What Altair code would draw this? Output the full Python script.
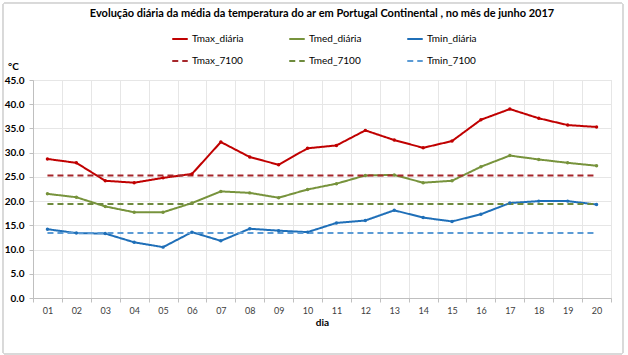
import altair as alt
import pandas as pd

days = ["01","02","03","04","05","06","07","08","09","10",
        "11","12","13","14","15","16","17","18","19","20"]
tmax = [28.7,27.9,24.2,23.8,24.8,25.6,32.2,29.1,27.5,30.9,
        31.5,34.6,32.6,31.0,32.4,36.8,39.0,37.1,35.7,35.3]
tmed = [21.5,20.8,18.9,17.7,17.7,19.6,22.0,21.7,20.7,22.4,
        23.6,25.3,25.4,23.8,24.2,27.1,29.4,28.6,27.9,27.3]
tmin = [14.2,13.4,13.3,11.5,10.5,13.6,11.8,14.3,13.9,13.6,
        15.5,16.0,18.1,16.6,15.8,17.3,19.6,20.0,20.0,19.3]
tmax_7100 = 25.3
tmed_7100 = 19.4
tmin_7100 = 13.4

# legend fills column by column: pairs (daily, normal) per column
series = ["Tmax_diária","Tmax_7100","Tmed_diária","Tmed_7100","Tmin_diária","Tmin_7100"]
colors = ["#C00000","#A6262B","#77933C","#6E8B3D","#1F6FB8","#5B9BD5"]
dashes = [[1,0],[6,4],[1,0],[6,4],[1,0],[6,4]]
daily = ["Tmax_diária","Tmed_diária","Tmin_diária"]

rows = []
for i, d in enumerate(days):
    rows.append({"dia": d, "serie": "Tmax_diária", "v": tmax[i]})
    rows.append({"dia": d, "serie": "Tmed_diária", "v": tmed[i]})
    rows.append({"dia": d, "serie": "Tmin_diária", "v": tmin[i]})
    rows.append({"dia": d, "serie": "Tmax_7100", "v": tmax_7100})
    rows.append({"dia": d, "serie": "Tmed_7100", "v": tmed_7100})
    rows.append({"dia": d, "serie": "Tmin_7100", "v": tmin_7100})
df = pd.DataFrame(rows)

FONT = "Lato"

x = alt.X("dia:O", sort=days, title="dia",
          scale=alt.Scale(paddingInner=0, paddingOuter=0),
          axis=alt.Axis(labelAngle=0, tickBand="extent", grid=True,
                        gridColor="#E6E6E6", domainColor="#BFBFBF", tickColor="#BFBFBF",
                        tickSize=4, labelFontSize=9, labelColor="#404040", labelFont=FONT,
                        labelPadding=4, titleFont=FONT, titleFontSize=10, titleFontWeight="bold",
                        titleColor="#000000", titleY=24, titleBaseline="middle"))
y = alt.Y("v:Q", title="°C",
          scale=alt.Scale(domain=[0, 45], nice=False),
          axis=alt.Axis(values=[0,5,10,15,20,25,30,35,40,45], format=".1f",
                        gridColor="#E6E6E6", domainColor="#BFBFBF", tickColor="#BFBFBF",
                        tickSize=4, labelFontSize=10, labelFontWeight="bold", labelColor="#000000",
                        labelFont=FONT, labelPadding=5,
                        titleAngle=0, titleX=-20, titleY=-14, titleAlign="center",
                        titleBaseline="middle", titleFont=FONT, titleFontSize=10,
                        titleFontWeight="bold", titleColor="#000000"))

leg = dict(title=None, orient="none", legendX=138, legendY=-50,
           columns=3, columnPadding=41, rowPadding=8,
           symbolType="stroke", symbolSize=240, symbolStrokeWidth=2,
           labelFont=FONT, labelFontSize=10, labelColor="#000000",
           labelOffset=3, symbolLimit=0)
color = alt.Color("serie:N", scale=alt.Scale(domain=series, range=colors),
                  legend=alt.Legend(**leg))
dash = alt.StrokeDash("serie:N", scale=alt.Scale(domain=series, range=dashes),
                      legend=alt.Legend(**leg))

lines = alt.Chart(df).mark_line(strokeWidth=2).encode(x=x, y=y, color=color, strokeDash=dash)
pts = alt.Chart(df).transform_filter(
    alt.FieldOneOfPredicate(field="serie", oneOf=daily)
).mark_point(filled=True, size=12, opacity=1).encode(
    x=x, y=y, color=alt.Color("serie:N", scale=alt.Scale(domain=series, range=colors), legend=None))

border = alt.Chart(df).mark_rect(fill=None, stroke="#D9D9D9", strokeWidth=1, cornerRadius=3).encode(
    x=alt.value(-30), x2=alt.value(590), y=alt.value(-77), y2=alt.value(274))

chart = alt.layer(border, lines, pts).properties(
    width=578, height=218,
    title=alt.Title("Evolução diária da média da temperatura do ar em Portugal Continental , no mês de junho 2017",
                    anchor="middle", fontSize=11, fontWeight="bold", font=FONT, color="#000000",
                    offset=-16),
    autosize=alt.AutoSizeParams(type="none"),
    padding={"left": 33, "top": 80, "right": 17, "bottom": 57},
).configure_view(stroke=None).configure(background="white")

chart.save("out.html", embed_options={"renderer": "svg", "actions": False})
